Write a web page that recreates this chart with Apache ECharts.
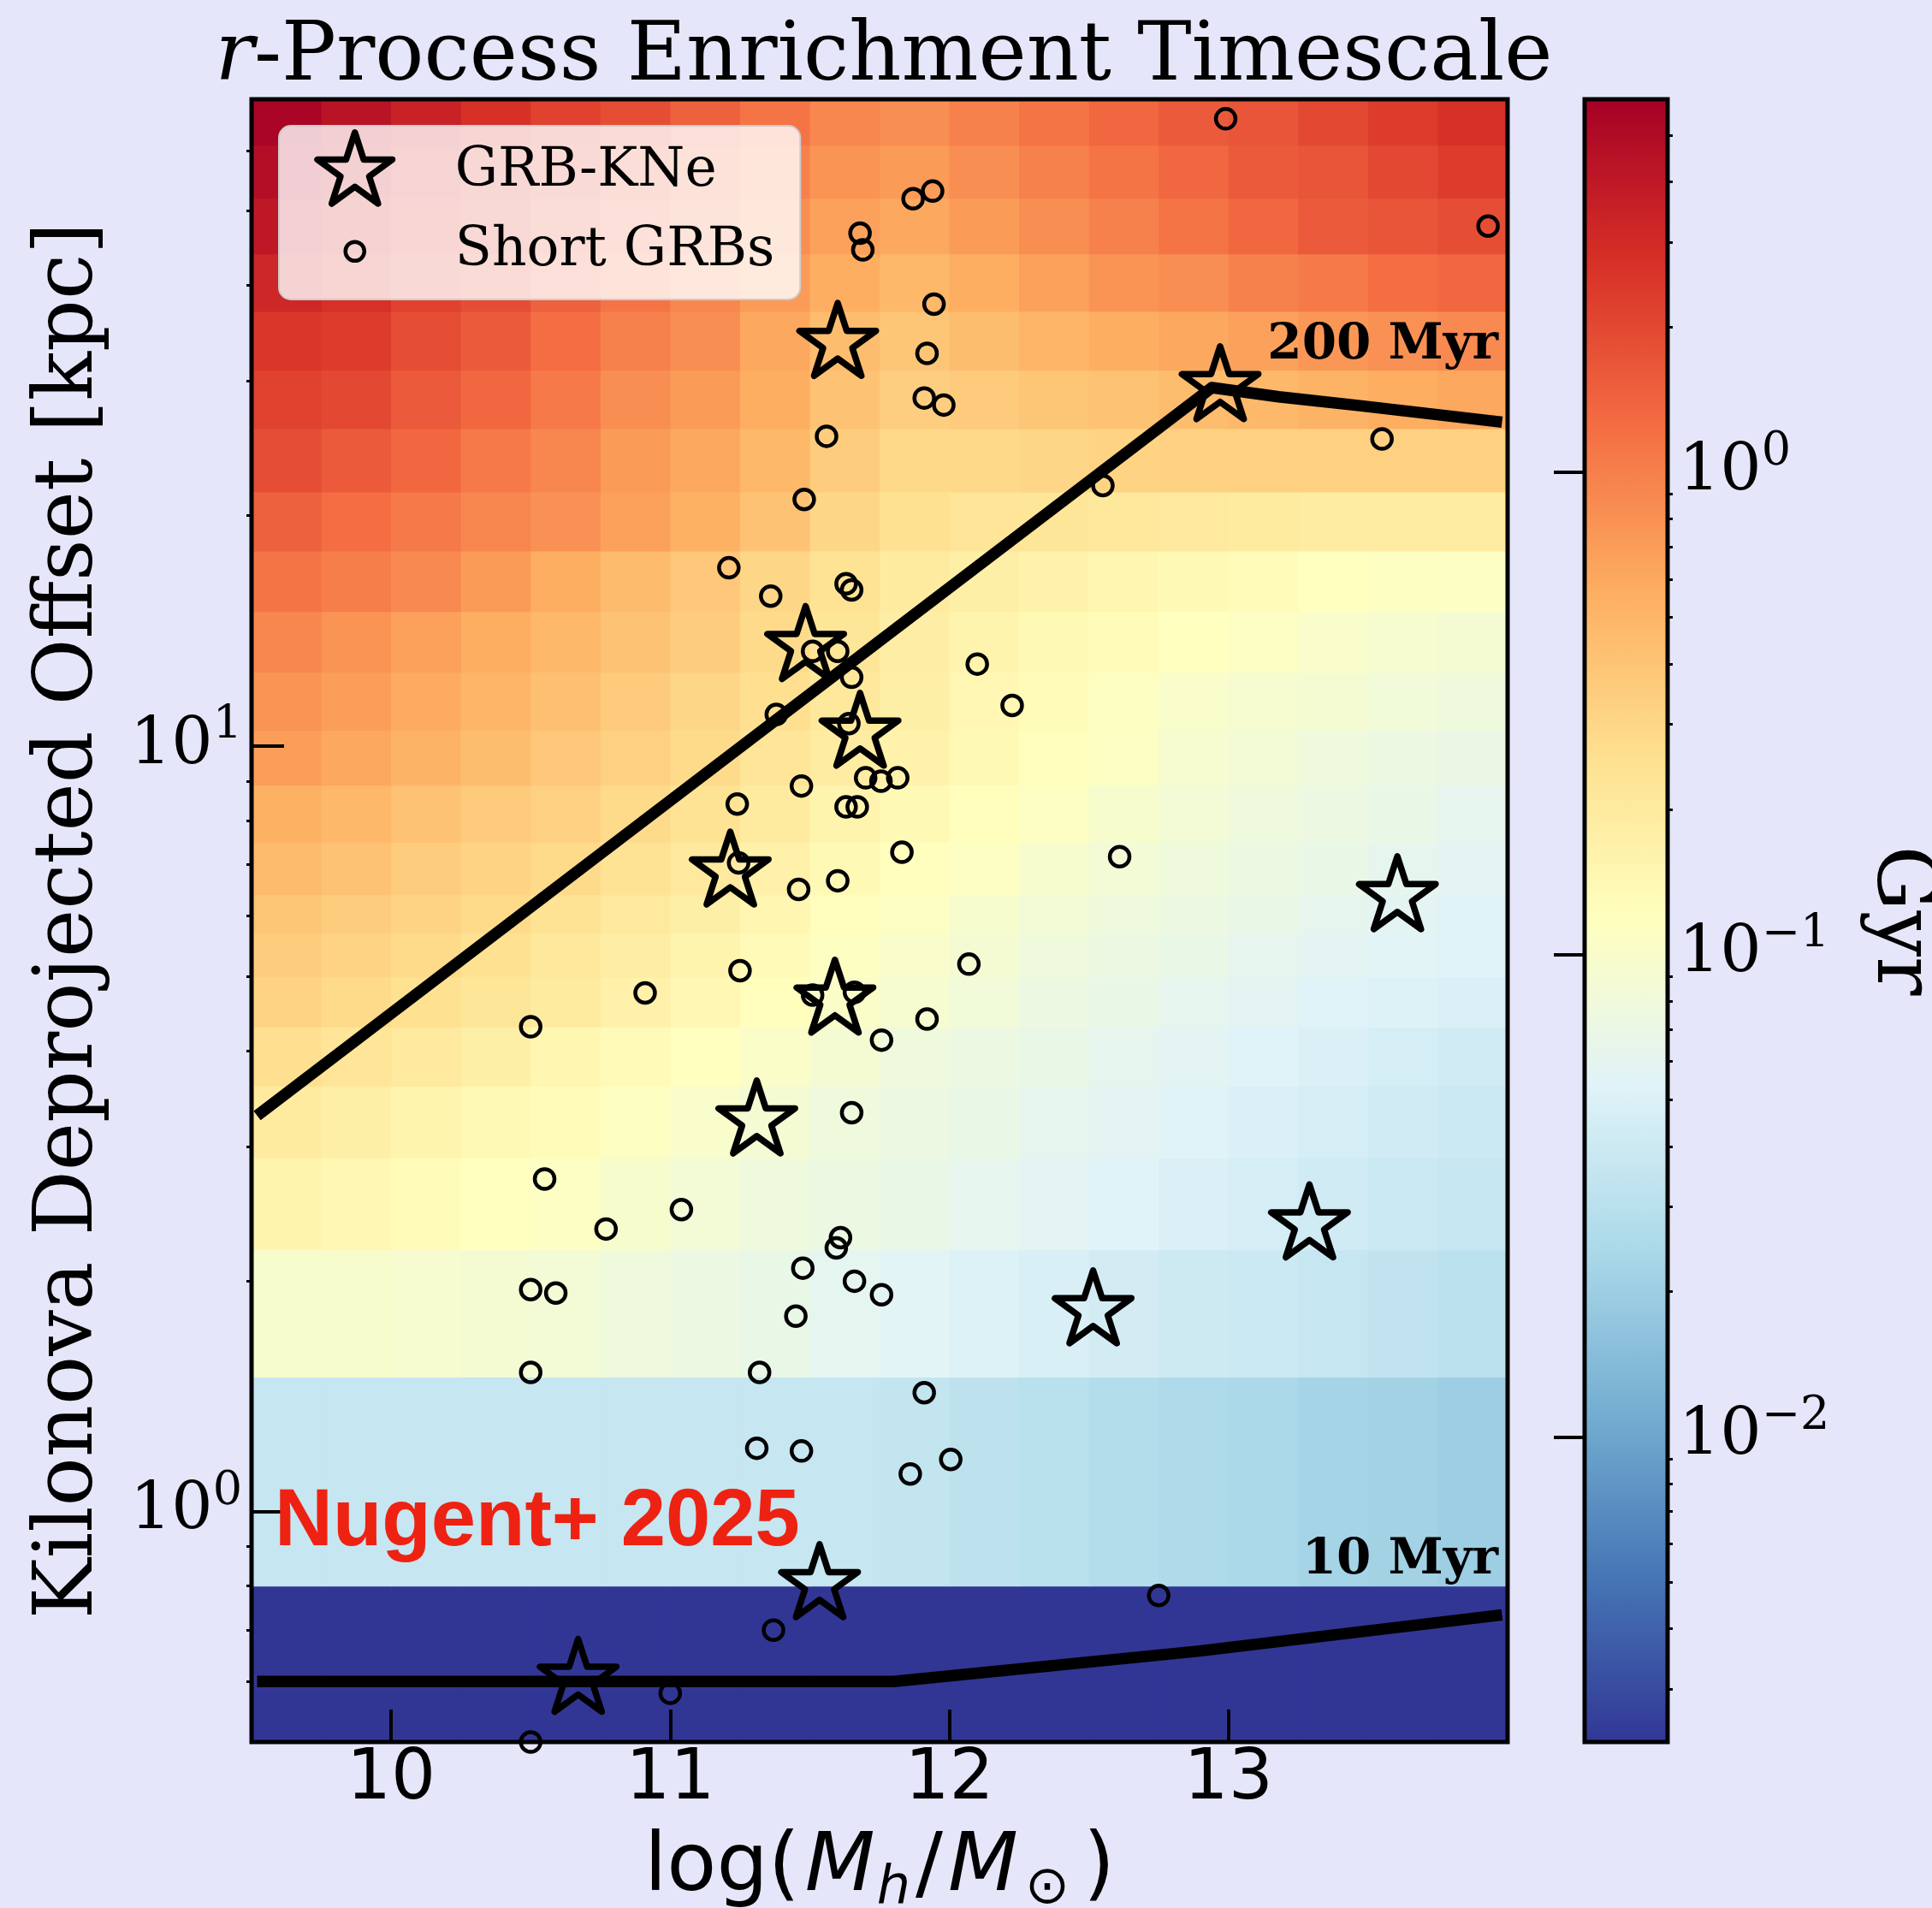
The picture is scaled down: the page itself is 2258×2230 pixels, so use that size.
<!DOCTYPE html>
<html><head><meta charset="utf-8">
<script src="https://cdn.jsdelivr.net/npm/echarts@6/dist/echarts.min.js"></script>
<style>html,body{margin:0;padding:0;background:#e6e6fa}#c{width:2258px;height:2230px}</style>
</head><body><div id="c"></div>
<script>
// ---------------- data ----------------
const massTicks = [10, 11, 12, 13];
const offsetTicks = [1, 10];
const offsetMinorTicks = [0.6, 0.7, 0.8, 0.9, 2, 3, 4, 5, 6, 7, 8, 9, 20, 30, 40, 50, 60];
const gyrTicks = [0.01, 0.1, 1];
const gyrMinorTicks = [0.003, 0.004, 0.005, 0.006, 0.007, 0.008, 0.009,
  0.02, 0.03, 0.04, 0.05, 0.06, 0.07, 0.08, 0.09,
  0.2, 0.3, 0.4, 0.5, 0.6, 0.7, 0.8, 0.9, 2, 3, 4, 5];
const cbarMin = 0.00233, cbarMax = 5.93;

// heat-map cell edges (log halo mass, offset kpc)
const xEdges = [9.5, 9.75, 10, 10.25, 10.5, 10.75, 11, 11.25, 11.5, 11.75, 12, 12.25, 12.5, 12.75, 13, 13.25, 13.5, 13.75, 14];
const yEdges = [0.5, 0.8, 1.5, 2.2, 2.9, 3.6, 4.3, 5.0, 5.7, 6.4, 7.5, 8.9, 10.5, 12.5, 15, 18, 21.5, 26, 31, 37, 44, 52, 61, 70];
// enrichment timescale [Gyr], one row per y band (bottom to top), one value per x column
const timeGyr = [
  [0.00233,0.00233,0.00233,0.00233,0.00233,0.00233,0.00233,0.00233,0.00233,0.00233,0.00233,0.00233,0.00233,0.00233,0.00233,0.00233,0.00233,0.00233],
  [0.0363,0.0363,0.0363,0.0363,0.0363,0.0363,0.0363,0.0363,0.0363,0.0349,0.0322,0.0298,0.0276,0.0255,0.0245,0.0226,0.0218,0.0201],
  [0.0966,0.0966,0.0929,0.0893,0.0858,0.0794,0.0734,0.0679,0.0603,0.0558,0.0516,0.0477,0.0441,0.0408,0.0392,0.0363,0.0335,0.0310],
  [0.155,0.143,0.127,0.118,0.109,0.0966,0.0858,0.0794,0.0734,0.0679,0.0628,0.0580,0.0537,0.0496,0.0459,0.0424,0.0392,0.0363],
  [0.196,0.174,0.155,0.137,0.127,0.113,0.100,0.0893,0.0794,0.0734,0.0679,0.0628,0.0580,0.0537,0.0496,0.0459,0.0424,0.0392],
  [0.257,0.229,0.203,0.174,0.149,0.132,0.118,0.104,0.0893,0.0794,0.0734,0.0679,0.0628,0.0580,0.0537,0.0496,0.0459,0.0424],
  [0.313,0.278,0.247,0.220,0.196,0.167,0.143,0.122,0.104,0.0929,0.0825,0.0734,0.0679,0.0628,0.0580,0.0537,0.0516,0.0496],
  [0.352,0.313,0.278,0.247,0.212,0.181,0.155,0.132,0.113,0.100,0.0893,0.0794,0.0734,0.0679,0.0628,0.0580,0.0558,0.0537],
  [0.396,0.352,0.313,0.278,0.238,0.203,0.174,0.149,0.122,0.109,0.0966,0.0858,0.0794,0.0734,0.0679,0.0628,0.0580,0.0537],
  [0.463,0.412,0.352,0.313,0.278,0.238,0.203,0.167,0.137,0.122,0.109,0.0966,0.0858,0.0794,0.0734,0.0679,0.0628,0.0580],
  [0.542,0.482,0.412,0.366,0.326,0.278,0.238,0.196,0.155,0.137,0.122,0.109,0.0966,0.0858,0.0794,0.0734,0.0679,0.0628],
  [0.686,0.609,0.521,0.445,0.381,0.326,0.278,0.229,0.188,0.161,0.137,0.122,0.109,0.0929,0.0858,0.0794,0.0734,0.0706],
  [0.771,0.686,0.586,0.501,0.428,0.366,0.301,0.257,0.212,0.174,0.143,0.127,0.113,0.100,0.0929,0.0893,0.0825,0.0794],
  [0.902,0.771,0.659,0.563,0.482,0.412,0.352,0.278,0.220,0.181,0.155,0.137,0.127,0.118,0.109,0.100,0.0929,0.0893],
  [1.14,1.01,0.867,0.713,0.563,0.463,0.381,0.301,0.238,0.196,0.174,0.161,0.149,0.137,0.127,0.118,0.113,0.109],
  [1.44,1.23,1.06,0.902,0.802,0.659,0.542,0.412,0.301,0.247,0.229,0.220,0.212,0.203,0.196,0.188,0.188,0.188],
  [1.83,1.56,1.33,1.06,0.902,0.713,0.609,0.482,0.352,0.289,0.289,0.301,0.313,0.326,0.326,0.326,0.326,0.326],
  [2.14,1.97,1.56,1.33,1.06,0.834,0.713,0.563,0.412,0.339,0.366,0.396,0.412,0.445,0.482,0.521,0.563,0.609],
  [2.50,2.31,1.83,1.56,1.23,0.975,0.834,0.609,0.445,0.396,0.445,0.501,0.563,0.609,0.659,0.741,0.802,0.867],
  [3.16,2.70,2.14,1.83,1.44,1.14,0.902,0.713,0.563,0.482,0.563,0.659,0.771,0.834,0.975,1.06,1.23,1.33],
  [4.00,3.16,2.50,2.14,1.69,1.33,1.06,0.834,0.659,0.609,0.713,0.834,0.975,1.14,1.33,1.56,1.69,1.83],
  [4.68,3.70,2.92,2.31,1.97,1.56,1.23,0.975,0.771,0.713,0.834,0.975,1.14,1.33,1.56,1.69,1.97,2.31],
  [5.47,4.32,3.42,2.70,2.14,1.83,1.44,1.14,0.902,0.834,0.975,1.14,1.33,1.56,1.69,1.97,2.31,2.70]
];

// GRB-KNe (stars)
const kneMass   = [11.60, 12.97, 11.485, 11.68, 11.215, 11.59, 11.31, 13.605, 13.29, 12.515, 11.535, 10.67];
const kneOffset = [33.6, 29.5, 13.5, 10.4, 6.85, 4.66, 3.24, 6.36, 2.37, 1.83, 0.803, 0.604];

// Short GRBs (circles)
const sgrbMass = [12.99, 11.87, 11.94, 11.68, 11.69, 13.93, 11.945, 11.92, 11.91, 11.98,
  11.56, 13.55, 11.48, 12.55, 11.21, 11.36, 11.63, 11.65, 11.51, 11.60,
  11.65, 12.10, 12.225, 11.38, 11.64, 11.70, 11.755, 11.815, 11.47, 11.24,
  11.63, 11.67, 11.83, 12.61, 11.245, 11.46, 11.60, 12.07, 11.25, 10.91,
  11.51, 11.66, 11.92, 10.50, 11.757, 11.65, 10.55, 11.04, 10.77, 11.61,
  11.595, 11.475, 11.66, 10.50, 10.59, 11.757, 11.45, 10.50, 11.32, 11.91,
  11.31, 11.47, 12.005, 11.86, 12.75, 11.37, 11.00, 10.50];
const sgrbOffset = [66.0, 51.9, 53.1, 46.8, 44.5, 47.8, 37.8, 32.6, 28.5, 27.9,
  25.4, 25.2, 21.0, 21.9, 17.1, 15.7, 16.3, 16.0, 13.3, 13.3,
  12.3, 12.8, 11.3, 11.0, 10.7, 9.09, 9.0, 9.09, 8.87, 8.40,
  8.33, 8.33, 7.27, 7.17, 7.04, 6.50, 6.67, 5.19, 5.09, 4.76,
  4.73, 4.77, 4.40, 4.30, 4.13, 3.32, 2.72, 2.48, 2.34, 2.28,
  2.21, 2.08, 2.00, 1.95, 1.93, 1.92, 1.80, 1.52, 1.52, 1.43,
  1.21, 1.20, 1.17, 1.12, 0.777, 0.70, 0.579, 0.5];

// timescale contours
const line200Mass   = [9.52, 12.94, 13.18, 13.47, 13.98];
const line200Offset = [3.29, 29.4, 28.6, 27.85, 26.5];
const line10Mass    = [9.52, 11.80, 12.89, 13.98];
const line10Offset  = [0.600, 0.600, 0.657, 0.733];

const rdylbuR = ['#313695','#4575b4','#74add1','#abd9e9','#e0f3f8','#ffffbf','#fee090','#fdae61','#f46d43','#d73027','#a50026'];

// ---------------- build ----------------
const cellData = [];
for (let r = 0; r < timeGyr.length; r++) {
  for (let c = 0; c < timeGyr[r].length; c++) {
    cellData.push([xEdges[c], xEdges[c + 1], yEdges[r], yEdges[r + 1],
      Math.log10(Math.max(timeGyr[r][c], cbarMin))]);
  }
}
const zip = (a, b) => a.map((v, i) => [v, b[i]]);

const starPath = 'path://M-100,-100 M100,100 M0,-100 L22.45,-30.9 L95.11,-30.9 L36.33,11.8 L58.78,80.9 L0,38.2 L-58.78,80.9 L-36.33,11.8 L-95.11,-30.9 L-22.45,-30.9 Z';
const circleIcon = 'path://M-50,-50 M50,50 M0,-12 A12,12 0 1,1 0,12 A12,12 0 1,1 0,-12 Z';

function powLabel(v) {
  const e = Math.round(Math.log10(v));
  return '{b|10}{s|' + (e < 0 ? '\u2212' + (-e) : String(e)) + '}';
}
const powRich = {
  b: {fontFamily: 'DejaVu Serif', fontSize: 76, lineHeight: 100, color: '#000'},
  s: {fontFamily: 'DejaVu Serif', fontSize: 54, lineHeight: 54, verticalAlign: 'top', color: '#000'}
};

const chart = echarts.init(document.getElementById('c'), null, {renderer: 'canvas'});
const option = {
  backgroundColor: '#e6e6fa',
  animation: false,
  title: {
    text: '{i|r}-Process Enrichment Timescale',
    left: 1028, top: 16, textAlign: 'center',
    textStyle: {fontFamily: 'DejaVu Serif', fontSize: 95, fontWeight: 'normal', color: '#000', lineHeight: 95,
      rich: {i: {fontFamily: 'DejaVu Serif', fontStyle: 'italic', fontSize: 95, lineHeight: 95, color: '#000'}}}
  },
  grid: [
    {left: 294, top: 116, width: 1468, height: 1920, show: true, borderColor: '#000', borderWidth: 5,
      backgroundColor: 'rgba(0,0,0,0)', z: 6, containLabel: false, outerBoundsMode: 'none'},
    {left: 1852, top: 116, width: 97, height: 1920, show: false, containLabel: false, outerBoundsMode: 'none'}
  ],
  visualMap: {
    type: 'continuous', show: false, seriesIndex: 0, dimension: 4,
    min: Math.log10(cbarMin), max: Math.log10(cbarMax),
    inRange: {color: rdylbuR}
  },
  legend: {
    orient: 'vertical', left: 326, top: 147, padding: [4, 30, 8, 39],
    itemWidth: 100, itemHeight: 92, itemGap: -5,
    backgroundColor: 'rgba(255,255,255,0.8)', borderColor: '#cccccc', borderWidth: 2, borderRadius: 14,
    selectedMode: false, z: 20,
    formatter: name => '{t|' + name + '}',
    textStyle: {fontFamily: 'DejaVu Serif', fontSize: 63, lineHeight: 72,
      rich: {t: {fontFamily: 'DejaVu Serif', fontSize: 63, lineHeight: 72, color: '#000', padding: [0, 0, 0, 62]}}},
    data: [
      {name: 'GRB-KNe', icon: starPath, itemStyle: {color: 'rgba(0,0,0,0)', borderColor: '#000', borderWidth: 7.5, borderJoin: 'round', opacity: 1}},
      {name: 'Short GRBs', icon: circleIcon, itemStyle: {color: 'rgba(0,0,0,0)', borderColor: '#000', borderWidth: 4.5, opacity: 1}}
    ]
  },
  xAxis: [
    {
      gridIndex: 0, type: 'value', min: 9.5, max: 14, position: 'bottom', z: 7,
      axisLine: {show: false}, splitLine: {show: false},
      axisTick: {show: true, inside: true, length: 38, customValues: massTicks, lineStyle: {color: '#000', width: 4}},
      axisLabel: {show: true, customValues: massTicks, margin: 4, fontFamily: 'DejaVu Sans', fontSize: 82, lineHeight: 82, color: '#000'},
      name: 'log({i|M}{si|h}/{i|M}{s|\u2299})', nameLocation: 'middle', nameGap: 93,
      nameTextStyle: {fontFamily: 'DejaVu Sans', fontSize: 95, lineHeight: 110, color: '#000',
        rich: {
          i: {fontFamily: 'DejaVu Sans', fontStyle: 'italic', fontSize: 95, lineHeight: 110, color: '#000', padding: [0, 2, 0, 6]},
          si: {fontFamily: 'DejaVu Sans', fontStyle: 'italic', fontSize: 62, lineHeight: 62, verticalAlign: 'bottom', color: '#000', padding: [0, 6, 0, 0]},
          s: {fontFamily: 'DejaVu Sans', fontSize: 62, lineHeight: 62, verticalAlign: 'bottom', color: '#000', padding: [0, 16, 0, 6]}
        }}
    },
    {gridIndex: 1, type: 'value', min: 0, max: 1, show: false}
  ],
  yAxis: [
    {
      gridIndex: 0, type: 'log', logBase: 10, min: 0.5, max: 70, position: 'left', z: 7,
      axisLine: {show: false}, splitLine: {show: false}, minorTick: {show: false},
      axisTick: {show: true, inside: true, length: 38, customValues: offsetTicks, lineStyle: {color: '#000', width: 4}},
      axisLabel: {show: true, customValues: offsetTicks, margin: 11, formatter: powLabel, rich: powRich},
      name: 'Kilonova Deprojected Offset [kpc]', nameLocation: 'middle', nameRotate: 90, nameGap: 164,
      nameTextStyle: {fontFamily: 'DejaVu Serif', fontSize: 95, lineHeight: 95, color: '#000'}
    },
    {
      gridIndex: 0, type: 'log', logBase: 10, min: 0.5, max: 70, position: 'left', z: 7,
      axisLine: {show: false}, splitLine: {show: false},
      axisTick: {show: true, inside: false, length: 6, customValues: offsetMinorTicks, lineStyle: {color: '#000', width: 3}},
      axisLabel: {show: false}
    },
    {
      gridIndex: 1, type: 'log', logBase: 10, min: cbarMin, max: cbarMax, position: 'right', z: 7,
      axisLine: {show: false}, splitLine: {show: false},
      axisTick: {show: true, inside: true, length: 36, customValues: gyrTicks, lineStyle: {color: '#000', width: 4}},
      axisLabel: {show: true, customValues: gyrTicks, margin: 13, formatter: powLabel, rich: powRich},
      name: 'Gyr', nameLocation: 'middle', nameRotate: -90, nameGap: 223,
      nameTextStyle: {fontFamily: 'DejaVu Serif', fontSize: 95, lineHeight: 95, color: '#000'}
    },
    {
      gridIndex: 1, type: 'log', logBase: 10, min: cbarMin, max: cbarMax, position: 'right', z: 7,
      axisLine: {show: false}, splitLine: {show: false},
      axisTick: {show: true, inside: false, length: 6, customValues: gyrMinorTicks, lineStyle: {color: '#000', width: 3}},
      axisLabel: {show: false}
    }
  ],
  series: [
    {
      type: 'custom', name: 'timescale', xAxisIndex: 0, yAxisIndex: 0, z: 1, silent: true,
      dimensions: ['x0', 'x1', 'y0', 'y1', 'logt'], encode: {x: [0, 1], y: [2, 3]},
      data: cellData,
      renderItem: function (params, api) {
        const a = api.coord([api.value(0), api.value(3)]);
        const b = api.coord([api.value(1), api.value(2)]);
        return {type: 'rect', shape: {x: a[0], y: a[1], width: b[0] - a[0] + 0.8, height: b[1] - a[1] + 0.8},
          style: {fill: api.visual('color')}};
      }
    },
    {
      type: 'line', name: '200 Myr', xAxisIndex: 0, yAxisIndex: 0, z: 3, symbol: 'none', silent: true,
      data: zip(line200Mass, line200Offset),
      lineStyle: {color: '#000', width: 13.5, cap: 'butt', join: 'round', opacity: 1}
    },
    {
      type: 'line', name: '10 Myr', xAxisIndex: 0, yAxisIndex: 0, z: 3, symbol: 'none', silent: true,
      data: zip(line10Mass, line10Offset),
      lineStyle: {color: '#000', width: 13.5, cap: 'butt', join: 'round', opacity: 1}
    },
    {
      type: 'scatter', name: 'Short GRBs', xAxisIndex: 0, yAxisIndex: 0, z: 4, silent: true,
      symbol: 'circle', symbolSize: 23,
      itemStyle: {color: 'rgba(0,0,0,0)', borderColor: '#000', borderWidth: 4.5, opacity: 1},
      data: zip(sgrbMass, sgrbOffset)
    },
    {
      type: 'scatter', name: 'GRB-KNe', xAxisIndex: 0, yAxisIndex: 0, z: 5, silent: true,
      symbol: starPath, symbolSize: 94,
      itemStyle: {color: 'rgba(0,0,0,0)', borderColor: '#000', borderWidth: 7.5, borderJoin: 'round', opacity: 1},
      data: zip(kneMass, kneOffset)
    },
    {
      type: 'custom', name: 'colorbar', xAxisIndex: 1, yAxisIndex: 2, z: 1, silent: true,
      data: [[0.5, 0.1]],
      renderItem: function (params, api) {
        const a = api.coord([0, cbarMax]);
        const b = api.coord([1, cbarMin]);
        const stops = rdylbuR.slice().reverse().map((c, i, arr) => ({offset: i / (arr.length - 1), color: c}));
        return {type: 'rect', shape: {x: a[0], y: a[1], width: b[0] - a[0], height: b[1] - a[1]},
          style: {fill: {type: 'linear', x: 0, y: 0, x2: 0, y2: 1, colorStops: stops}, stroke: '#000', lineWidth: 5}};
      }
    }
  ],
  graphic: [
    {type: 'text', x: 1751, y: 404, z: 20, silent: true,
      style: {text: '200 Myr', fill: '#000', font: 'bold 58px "DejaVu Serif"', align: 'right', verticalAlign: 'middle'}},
    {type: 'text', x: 1751, y: 1824, z: 20, silent: true,
      style: {text: '10 Myr', fill: '#000', font: 'bold 58px "DejaVu Serif"', align: 'right', verticalAlign: 'middle'}},
    {type: 'text', x: 321, y: 1780, z: 20, silent: true,
      style: {text: 'Nugent+ 2025', fill: '#ee2212', font: 'bold 94px "Liberation Sans"', align: 'left', verticalAlign: 'middle'}}
  ]
};
chart.setOption(option);
</script>
</body></html>
